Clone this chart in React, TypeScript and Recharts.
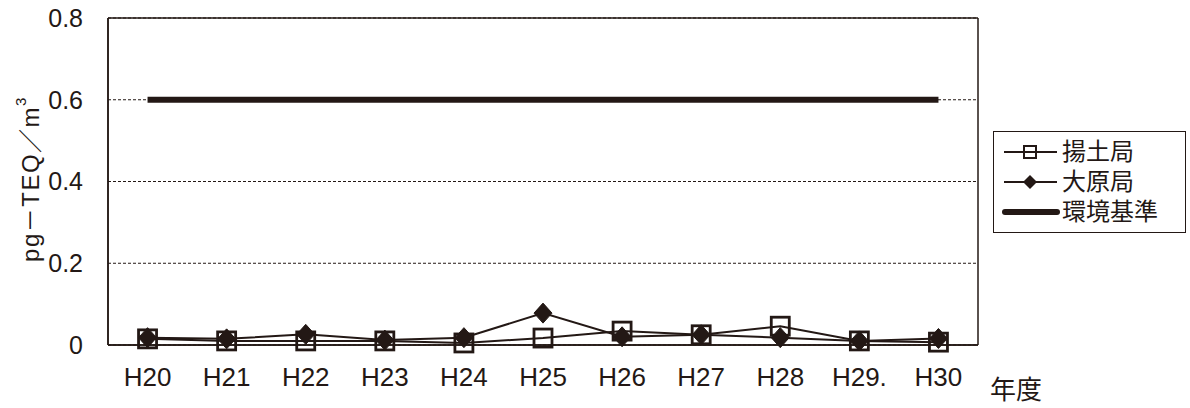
import React from 'react';
import { LineChart, Line, XAxis, YAxis, CartesianGrid } from 'recharts';

// 年度ラベル
const years = ['H20', 'H21', 'H22', 'H23', 'H24', 'H25', 'H26', 'H27', 'H28', 'H29.', 'H30'];
// 揚土局
const ageduchi = [0.015, 0.01, 0.01, 0.01, 0.005, 0.017, 0.034, 0.025, 0.046, 0.01, 0.007];
// 大原局
const ohara = [0.018, 0.015, 0.026, 0.012, 0.018, 0.078, 0.02, 0.025, 0.018, 0.01, 0.016];
// 環境基準
const standard = [0.6, 0.6, 0.6, 0.6, 0.6, 0.6, 0.6, 0.6, 0.6, 0.6, 0.6];
const yTicks = [0, 0.2, 0.4, 0.6, 0.8];

const INK = '#231815';
const FONT = '"Liberation Sans", Arial, "Noto Sans CJK JP", sans-serif';

const data = years.map((year, i) => ({
  year,
  ageduchi: ageduchi[i],
  ohara: ohara[i],
  standard: standard[i],
}));

const SquareDot = (props: any) => {
  const { cx, cy, index } = props;
  if (cx == null || cy == null) return null;
  return <rect key={`sq-${index}`} x={cx - 9} y={cy - 9} width={18} height={18} fill="none" stroke={INK} strokeWidth={2.8} />;
};

const DiamondDot = (props: any) => {
  const { cx, cy, index } = props;
  if (cx == null || cy == null) return null;
  return (
    <polygon
      key={`dm-${index}`}
      points={`${cx},${cy - 10} ${cx + 9},${cy} ${cx},${cy + 10} ${cx - 9},${cy}`}
      fill={INK}
      stroke={INK}
      strokeWidth={1}
    />
  );
};

const legendItems = [
  { key: 'ageduchi', name: '揚土局', marker: 'square' },
  { key: 'ohara', name: '大原局', marker: 'diamond' },
  { key: 'standard', name: '環境基準', marker: 'thick' },
];

// 凡例（枠付き）
const LegendBox = () => (
  <div
    style={{
      position: 'absolute',
      left: 993,
      top: 131,
      width: 193,
      border: `1.5px solid ${INK}`,
      padding: '5px 0 5px 8px',
      fontFamily: FONT,
      fontSize: 24,
      color: INK,
      lineHeight: '30px',
      boxSizing: 'border-box',
    }}
  >
    {legendItems.map(item => (
      <div key={item.key} style={{ display: 'flex', alignItems: 'center', height: 30 }}>
        <svg width={58} height={20} style={{ marginRight: 2 }}>
          {item.marker === 'thick' ? (
            <line x1={3} y1={10} x2={55} y2={10} stroke={INK} strokeWidth={6} strokeLinecap="round" />
          ) : (
            <line x1={2} y1={10} x2={55} y2={10} stroke={INK} strokeWidth={2} />
          )}
          {item.marker === 'square' && (
            <rect x={22} y={4} width={12} height={12} fill="white" stroke={INK} strokeWidth={2} />
          )}
          {item.marker === 'square' && <line x1={22} y1={10} x2={34} y2={10} stroke={INK} strokeWidth={2} />}
          {item.marker === 'diamond' && <polygon points="28,3 35,10 28,17 21,10" fill={INK} />}
        </svg>
        <span>{item.name}</span>
      </div>
    ))}
  </div>
);

const YLabel = () => (
  <text
    x={30}
    y={179}
    transform="rotate(-90, 30, 179)"
    textAnchor="middle"
    dominantBaseline="central"
    fontFamily={FONT}
    fontSize={24}
    letterSpacing={1.5}
    fill={INK}
  >
    pg－TEQ／m
    <tspan fontSize={15} dy={-10}>3</tspan>
  </text>
);

const XLabel = () => (
  <text x={1016} y={399} textAnchor="middle" fontFamily={FONT} fontSize={26} fill={INK}>
    年度
  </text>
);

const App: React.FC = () => {
  return (
    <div style={{ position: 'absolute', left: 0, top: 0, width: 1190, height: 408, background: '#fff' }}>
      <LineChart width={1190} height={408} data={data} margin={{ top: 18, right: 212, left: 0, bottom: 0 }}>
        <CartesianGrid vertical={false} stroke={INK} strokeDasharray="3 2" strokeWidth={1} />
        {/* プロット領域の枠線 */}
        <CartesianGrid
          fill="none"
          stroke={INK}
          strokeWidth={1.5}
          horizontalCoordinatesGenerator={({ offset }: any) => [offset.top, offset.top + offset.height]}
          verticalCoordinatesGenerator={({ offset }: any) => [offset.left, offset.left + offset.width]}
        />
        <XAxis
          dataKey="year"
          scale="band"
          height={63}
          tickLine={false}
          tickSize={0}
          tickMargin={23}
          axisLine={{ stroke: INK, strokeWidth: 1.5 }}
          tick={{ fill: INK, fontSize: 26, fontFamily: FONT }}
          interval={0}
          label={{ content: () => <XLabel /> }}
        />
        <YAxis
          width={108}
          domain={[0, 0.8]}
          ticks={yTicks}
          tickLine={false}
          tickSize={0}
          tickMargin={25}
          axisLine={{ stroke: INK, strokeWidth: 1.5 }}
          tick={{ fill: INK, fontSize: 25, fontFamily: FONT }}
          tickFormatter={(v: number) => (v === 0 ? '0' : v.toFixed(1))}
          label={{ content: () => <YLabel /> }}
        />
        <Line
          dataKey="standard"
          name="環境基準"
          stroke={INK}
          strokeWidth={6}
          dot={false}
          activeDot={false}
          isAnimationActive={false}
        />
        <Line
          dataKey="ageduchi"
          name="揚土局"
          stroke={INK}
          strokeWidth={2}
          dot={SquareDot}
          activeDot={false}
          isAnimationActive={false}
        />
        <Line
          dataKey="ohara"
          name="大原局"
          stroke={INK}
          strokeWidth={2}
          dot={DiamondDot}
          activeDot={false}
          isAnimationActive={false}
        />
      </LineChart>
      <LegendBox />
    </div>
  );
};

export default App;
